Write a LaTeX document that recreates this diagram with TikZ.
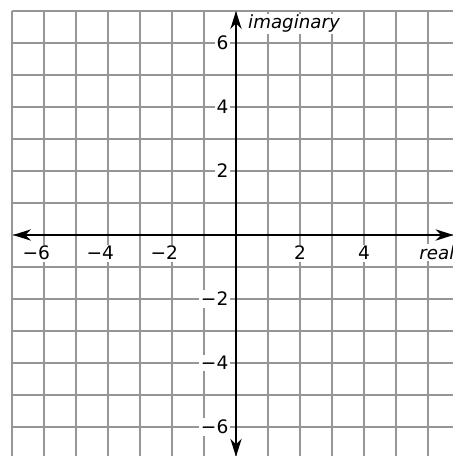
\documentclass[tikz,border=0pt]{standalone}
\usepackage{fontspec}
\setmainfont{DejaVu Sans}
\usetikzlibrary{arrows.meta}
\begin{document}
\begin{tikzpicture}[
  gridline/.style={draw={rgb,255:red,150;green,150;blue,150}, line width=1.2pt},
  axisline/.style={line width=1.9pt, {Stealth[length=16pt,width=10pt,inset=5pt]}-{Stealth[length=16pt,width=10pt,inset=5pt]}},
  ticklab/.style={fill=white, inner sep=1.5pt, font=\fontsize{16.5}{19}\selectfont},
  axislab/.style={fill=white, inner sep=1pt, font=\fontsize{16.2}{19}\selectfont\itshape}]
\useasboundingbox (-7.375,-6.906) rectangle (6.781,7.344);
\clip (-7.375,-6.906) rectangle (6.781,7.344);
\draw[gridline] (-7,-6.906) grid (6.781,7);
% tick labels on the real axis
\node[ticklab, anchor=base] (xm6) at (-6,-0.78) {\llap{−}6};
\node[ticklab, anchor=base] (xm4) at (-4,-0.78) {\llap{−}4};
\node[ticklab, anchor=base] (xm2) at (-2,-0.78) {\llap{−}2};
\node[ticklab, anchor=base] (xp2) at (2,-0.78) {2};
\node[ticklab, anchor=base] (xp4) at (4,-0.78) {4};
% tick labels on the imaginary axis
\node[ticklab, anchor=east] (yp6) at (-0.18,6) {6};
\node[ticklab, anchor=east] (yp4) at (-0.18,4) {4};
\node[ticklab, anchor=east] (yp2) at (-0.18,2) {2};
\node[ticklab, anchor=east] (ym2) at (-0.18,-2) {−2};
\node[ticklab, anchor=east] (ym4) at (-0.18,-4) {−4};
\node[ticklab, anchor=east] (ym6) at (-0.18,-6) {−6};
% axis names
\node[axislab, anchor=base west] (im) at (0.34,6.44) {imaginary};
\node[axislab, anchor=base west] (re) at (5.69,-0.76) {real};
% axes
\coordinate (W) at (-6.97,0);
\coordinate (E) at (6.80,0);
\coordinate (S) at (0,-6.93);
\coordinate (N) at (0,7.0);
\draw[axisline] (W) -- (E);
\draw[axisline] (S) -- (N);
\end{tikzpicture}
\end{document}
